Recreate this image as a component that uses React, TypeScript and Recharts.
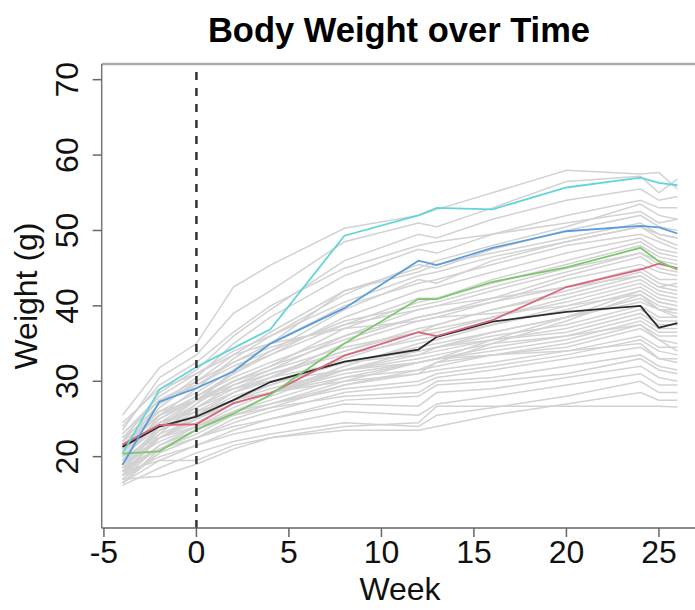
import { LineChart, Line, XAxis, YAxis, ReferenceLine } from "recharts";

const weeks = [-4, -2, 0, 2, 4, 8, 12, 13, 16, 20, 24, 25, 26];

// individual animals (grey background lines)
const grayMice = [
  [25.5, 31.8, 35.0, 42.5, 45.4, 50.3, 52.0, 52.8, 55.0, 58.0, 57.5, 57.7, 55.5],
  [23.5, 30.5, 33.5, 39.0, 42.0, 48.5, 51.0, 50.5, 53.0, 56.5, 57.2, 55.0, 56.8],
  [22.0, 28.5, 31.5, 36.0, 39.5, 46.0, 49.5, 49.0, 51.5, 54.0, 55.5, 54.0, 54.5],
  [21.0, 27.0, 30.5, 35.0, 38.5, 44.0, 47.5, 47.0, 49.5, 52.0, 54.0, 53.0, 53.0],
  [24.0, 29.5, 32.5, 36.5, 40.0, 45.0, 48.0, 48.5, 49.5, 51.0, 52.5, 51.0, 51.5],
  [19.5, 25.5, 29.0, 33.0, 36.0, 41.5, 45.5, 45.0, 47.5, 50.0, 52.0, 50.5, 50.0],
  [20.5, 26.5, 30.0, 33.5, 36.5, 42.0, 44.5, 45.5, 47.0, 49.0, 51.0, 49.5, 49.0],
  [18.0, 24.0, 27.5, 31.0, 34.0, 39.5, 43.5, 43.0, 46.0, 48.5, 50.5, 49.0, 48.0],
  [22.0, 27.0, 29.5, 32.5, 35.0, 40.0, 43.0, 43.5, 45.5, 48.0, 49.5, 48.5, 47.5],
  [20.0, 25.0, 28.0, 31.0, 33.5, 38.5, 42.0, 42.5, 44.5, 47.0, 49.0, 47.5, 47.0],
  [21.5, 26.0, 28.5, 31.5, 33.5, 37.5, 41.0, 41.0, 43.5, 46.0, 48.5, 47.0, 46.5],
  [19.0, 24.0, 27.0, 30.0, 32.0, 37.0, 40.5, 41.0, 43.0, 45.5, 48.0, 46.5, 46.0],
  [22.5, 27.5, 29.5, 32.0, 34.0, 38.0, 40.0, 40.5, 42.5, 45.0, 47.0, 46.0, 45.5],
  [18.5, 23.5, 26.5, 29.5, 31.5, 36.0, 39.5, 40.0, 42.0, 44.5, 47.0, 45.5, 45.0],
  [20.5, 25.0, 27.5, 30.0, 32.0, 35.5, 38.5, 39.0, 41.0, 44.0, 46.5, 45.0, 44.5],
  [17.5, 22.5, 25.5, 28.5, 30.5, 35.0, 38.0, 38.5, 40.5, 43.5, 45.5, 44.5, 44.0],
  [21.0, 25.5, 28.0, 30.5, 32.5, 36.0, 38.5, 39.0, 40.5, 42.5, 45.0, 43.5, 43.5],
  [19.0, 23.5, 26.0, 28.5, 30.5, 34.0, 37.0, 37.5, 39.5, 42.0, 44.5, 43.0, 42.5],
  [23.0, 27.5, 30.0, 32.5, 34.5, 37.5, 39.5, 40.0, 41.0, 42.5, 44.0, 42.5, 42.0],
  [18.0, 22.5, 25.0, 27.5, 29.5, 33.0, 36.0, 36.5, 38.5, 41.0, 43.5, 42.0, 41.5],
  [20.0, 24.0, 26.5, 29.0, 31.0, 34.0, 36.5, 37.0, 38.5, 40.5, 43.0, 41.5, 41.0],
  [17.0, 21.5, 24.0, 26.5, 28.5, 32.0, 35.0, 35.5, 37.5, 40.0, 42.5, 41.0, 40.5],
  [21.5, 25.5, 27.5, 29.5, 31.0, 33.5, 35.5, 36.0, 37.5, 39.5, 42.0, 40.5, 40.0],
  [19.5, 23.5, 25.5, 28.0, 29.5, 32.5, 34.5, 35.0, 36.5, 38.5, 41.0, 39.5, 39.5],
  [16.5, 21.0, 23.5, 26.0, 28.0, 31.5, 34.0, 34.5, 36.5, 38.5, 40.5, 39.5, 39.0],
  [20.5, 24.5, 26.5, 28.5, 30.0, 32.5, 34.0, 34.5, 36.0, 37.5, 40.0, 38.5, 38.5],
  [18.5, 22.5, 24.5, 27.0, 28.5, 31.5, 33.5, 34.0, 35.5, 37.0, 39.5, 38.0, 38.0],
  [22.0, 25.5, 27.5, 29.0, 30.5, 32.5, 33.5, 34.5, 35.5, 36.5, 39.0, 37.5, 37.5],
  [17.5, 21.5, 23.5, 26.0, 27.5, 30.5, 32.5, 33.0, 34.5, 36.0, 38.5, 37.0, 37.0],
  [19.5, 23.0, 25.0, 27.0, 28.5, 31.0, 32.5, 33.0, 34.0, 35.5, 38.0, 36.5, 36.5],
  [16.5, 20.5, 22.5, 25.0, 26.5, 29.5, 31.5, 32.0, 33.5, 35.0, 37.5, 36.0, 36.0],
  [21.0, 24.0, 25.5, 27.5, 28.5, 30.5, 31.5, 32.5, 33.5, 34.5, 37.0, 35.5, 35.0],
  [18.0, 21.5, 23.5, 25.5, 27.0, 29.5, 31.0, 31.5, 32.5, 34.0, 36.0, 34.5, 34.5],
  [19.0, 22.0, 24.0, 26.0, 27.0, 29.0, 30.0, 31.0, 32.0, 33.5, 35.5, 34.0, 33.5],
  [17.0, 20.5, 22.5, 24.5, 26.0, 28.5, 29.5, 30.5, 31.5, 33.0, 34.5, 33.0, 33.0],
  [20.0, 22.5, 24.0, 25.5, 26.5, 28.0, 28.5, 30.0, 30.5, 32.0, 33.5, 32.0, 31.5],
  [16.5, 19.5, 21.5, 23.5, 25.0, 27.5, 28.0, 29.5, 30.0, 31.0, 33.0, 31.5, 31.0],
  [18.5, 21.0, 22.5, 24.0, 25.0, 27.0, 26.7, 28.5, 29.0, 30.5, 32.0, 30.5, 30.0],
  [17.5, 20.0, 21.5, 23.0, 24.0, 26.0, 25.5, 27.0, 28.0, 29.5, 31.0, 29.5, 29.5],
  [16.2, 18.5, 20.5, 22.0, 23.0, 24.5, 24.0, 25.5, 26.5, 28.0, 30.0, 28.5, 28.5],
  [17.0, 17.4, 19.0, 21.0, 22.5, 23.5, 23.5, 24.0, 25.5, 27.0, 28.5, 27.5, 27.5],
  [18.0, 19.5, 19.5, 21.5, 22.5, 24.0, 24.5, 26.7, 26.7, 26.7, 26.7, 26.7, 26.6],
  [24.5, 29.0, 31.0, 33.5, 35.0, 37.0, 38.0, 38.5, 39.0, 40.0, 41.5, 40.0, 39.5],
  [17.5, 23.0, 27.0, 31.5, 35.0, 42.0, 45.0, 46.0, 48.0, 50.5, 53.5, 52.0, 51.5],
  [21.0, 24.5, 26.0, 27.5, 28.5, 30.0, 31.0, 32.5, 35.0, 38.0, 41.5, 39.5, 38.5],
  [19.0, 22.5, 25.0, 27.5, 29.0, 31.5, 33.0, 33.5, 35.0, 36.0, 37.5, 35.5, 34.0],
  [22.5, 26.0, 27.5, 29.0, 30.0, 31.5, 32.5, 33.0, 33.5, 34.0, 35.0, 33.0, 32.5],
  [20.0, 24.5, 27.5, 30.0, 31.5, 34.5, 36.5, 37.5, 39.5, 41.5, 44.0, 42.5, 43.0],
  [18.0, 21.0, 23.0, 25.5, 27.0, 30.0, 32.5, 33.0, 35.5, 38.5, 42.0, 40.5, 40.0],
  [23.0, 28.0, 31.0, 34.0, 36.0, 40.5, 44.0, 44.5, 46.5, 48.5, 50.5, 49.5, 49.0],
];

// highlighted animals
const blackMouse = [21.3, 24.0, 25.3, 27.5, 29.9, 32.6, 34.2, 35.9, 37.9, 39.2, 40.0, 37.1, 37.7];
const redMouse = [21.6, 24.2, 24.3, 27.1, 28.4, 33.4, 36.5, 36.0, 38.1, 42.5, 44.8, 45.6, 45.0];
const greenMouse = [20.4, 20.7, 23.6, 25.7, 28.2, 35.0, 40.9, 40.9, 43.2, 45.1, 47.7, 45.9, 44.8];
const blueMouse = [18.9, 27.3, 29.1, 31.3, 35.0, 39.7, 46.0, 45.4, 47.7, 49.9, 50.6, 50.4, 49.6];
const cyanMouse = [20.4, 28.9, 31.9, 34.4, 36.9, 49.3, 52.0, 53.0, 52.8, 55.7, 57.0, 56.3, 56.0];

const xTicks = [-5, 0, 5, 10, 15, 20, 25];
const yTicks = [20, 30, 40, 50, 60, 70];

const highlighted = [
  { key: "black", values: blackMouse, color: "#2b2b2b" },
  { key: "red", values: redMouse, color: "#d9667c" },
  { key: "green", values: greenMouse, color: "#7cc86c" },
  { key: "blue", values: blueMouse, color: "#5a9ddc" },
  { key: "cyan", values: cyanMouse, color: "#62d5d8" },
];

const rows = weeks.map((week, i) => {
  const row: Record<string, number> = { week };
  grayMice.forEach((s, j) => (row[`g${j}`] = s[i]));
  highlighted.forEach((h) => (row[h.key] = h.values[i]));
  return row;
});

const FONT = '"Liberation Sans", Arial, Helvetica, sans-serif';
const Y_MIN = 10.54;
const Y_MAX = 72.08;

const XTick = ({ x, payload }: any) => (
  <text x={x} y={563} textAnchor="middle" fontSize={32} fontFamily={FONT} fill="#111">
    {payload.value}
  </text>
);

const YTick = ({ y, payload }: any) => (
  <text transform={`translate(78, ${y}) rotate(-90)`} textAnchor="middle" fontSize={32} fontFamily={FONT} fill="#111">
    {payload.value}
  </text>
);

export default function App() {
  return (
    <div style={{ position: "absolute", left: 0, top: 0, width: 695, height: 610, background: "#fff" }}>
      <LineChart width={695} height={610} data={rows} margin={{ top: 64, right: 0, bottom: 52, left: 41.7 }}>
        <XAxis
          dataKey="week"
          type="number"
          domain={[-5.12, 26.95]}
          ticks={xTicks}
          height={30}
          tick={<XTick />}
          tickSize={9}
          axisLine={{ stroke: "#666", strokeWidth: 1.5 }}
          tickLine={{ stroke: "#666", strokeWidth: 1.5 }}
          allowDataOverflow
        />
        <YAxis
          type="number"
          domain={[Y_MIN, Y_MAX]}
          ticks={yTicks}
          width={60}
          tick={<YTick />}
          tickSize={9}
          axisLine={{ stroke: "#777", strokeWidth: 1.5 }}
          tickLine={{ stroke: "#666", strokeWidth: 1.5 }}
          allowDataOverflow
        />
        <ReferenceLine y={Y_MAX} stroke="#aaa" strokeWidth={2.5} ifOverflow="visible" />
        {grayMice.map((_, j) => (
          <Line
            key={`g${j}`}
            dataKey={`g${j}`}
            type="linear"
            stroke="#d2d2d2"
            strokeWidth={1.5}
            dot={false}
            isAnimationActive={false}
          />
        ))}
        {highlighted.map((h) => (
          <Line
            key={h.key}
            dataKey={h.key}
            type="linear"
            stroke={h.color}
            strokeWidth={1.8}
            dot={false}
            isAnimationActive={false}
          />
        ))}
        <ReferenceLine x={0} stroke="#333" strokeWidth={2.5} strokeDasharray="8 8" />
      </LineChart>
      <svg width={695} height={610} style={{ position: "absolute", left: 0, top: 0, pointerEvents: "none" }}>
        <text x={399} y={42} textAnchor="middle" fontSize={34.5} fontWeight="bold" fontFamily={FONT} fill="#000">
          Body Weight over Time
        </text>
        <text x={400} y={600} textAnchor="middle" fontSize={32} fontFamily={FONT} fill="#111">
          Week
        </text>
        <text transform="translate(37, 296) rotate(-90)" textAnchor="middle" fontSize={32} fontFamily={FONT} fill="#111">
          Weight (g)
        </text>
      </svg>
    </div>
  );
}
